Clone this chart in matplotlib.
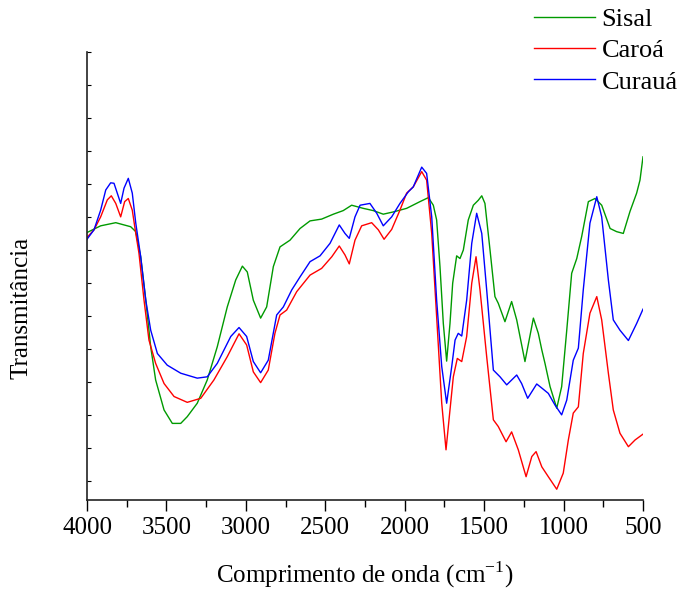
"""
FTIR spectra of sisal, caroá and curauá fibres (transmittance vs wavenumber).
"""
import matplotlib
matplotlib.use("Agg")
import matplotlib.pyplot as plt
import numpy as np

plt.rcParams["font.family"] = ["Liberation Serif", "DejaVu Serif"]

# values (wavenumber in cm-1, transmittance in arbitrary units)
sisal_wn = [4000, 3914, 3819, 3725, 3693, 3662, 3630, 3599, 3568, 3515, 3463, 3410,
            3369, 3306, 3243, 3180, 3117, 3064, 3022, 2991, 2953, 2907, 2869, 2827,
            2785, 2722, 2659, 2596, 2523, 2449, 2387, 2334, 2261, 2198, 2135, 2072,
            1988, 1904, 1851, 1820, 1799, 1778, 1757, 1736, 1715, 1698, 1673, 1652,
            1631, 1600, 1568, 1537, 1515, 1495, 1463, 1432, 1411, 1369, 1327, 1295,
            1243, 1190, 1159, 1137, 1117, 1085, 1043, 1012, 980, 949, 917, 886, 844,
            802, 760, 707, 666, 624, 582, 540, 519, 500]
sisal_t = [59.7, 61.2, 61.9, 61.0, 59.9, 54.3, 44.6, 34.2, 26.8, 20.1, 17.1, 17.1,
           18.6, 21.6, 26.8, 34.2, 43.1, 49.1, 52.2, 50.9, 44.6, 40.6, 43.1, 52.1,
           56.5, 58.0, 60.6, 62.3, 62.7, 63.8, 64.6, 65.8, 65.1, 64.6, 63.8, 64.3,
           65.1, 66.6, 67.5, 65.8, 62.5, 52.1, 39.4, 31.0, 39.4, 48.4, 54.5, 53.9,
           55.8, 62.5, 65.8, 66.9, 67.9, 66.2, 55.8, 45.4, 43.9, 39.8, 44.3, 40.2,
           30.9, 40.6, 37.2, 33.5, 30.5, 25.3, 20.5, 25.3, 37.9, 50.6, 53.9, 58.8, 66.6,
           67.3, 65.8, 60.6, 59.9, 59.5, 64.4, 68.5, 71.4, 76.6]

caroa_wn = [4000, 3956, 3914, 3872, 3847, 3819, 3788, 3763, 3740, 3715, 3693, 3673,
            3641, 3610, 3568, 3515, 3452, 3369, 3284, 3201, 3117, 3043, 2995, 2953,
            2907, 2859, 2817, 2785, 2743, 2680, 2596, 2523, 2459, 2412, 2376, 2349,
            2313, 2271, 2208, 2166, 2130, 2082, 2030, 1988, 1946, 1893, 1862, 1830,
            1799, 1767, 1740, 1715, 1694, 1669, 1641, 1610, 1578, 1551, 1526, 1484,
            1442, 1411, 1362, 1327, 1285, 1236, 1200, 1173, 1137, 1096, 1043, 1002,
            970, 939, 907, 876, 834, 791, 760, 718, 687, 645, 592, 550, 500]
caroa_t = [58.6, 60.3, 63.2, 67.0, 67.9, 66.2, 63.2, 66.6, 67.3, 64.7, 59.5, 55.1,
           44.6, 35.7, 30.5, 26.0, 23.1, 21.8, 22.7, 26.8, 32.0, 37.1, 34.6, 28.6,
           26.2, 29.0, 37.2, 41.3, 42.4, 46.5, 50.2, 51.7, 54.3, 56.7, 54.7, 52.7,
           58.0, 61.2, 61.9, 60.3, 58.2, 60.4, 64.7, 68.5, 69.9, 73.3, 71.4, 59.5,
           40.9, 21.6, 11.2, 20.1, 27.5, 31.6, 30.9, 36.5, 48.4, 54.3, 46.9, 32.0,
           17.9, 16.4, 13.0, 15.2, 11.2, 5.2, 9.7, 10.8, 7.4, 5.2, 2.4, 6.0,
           13.4, 19.4, 20.8, 32.7, 41.7, 45.4, 40.2, 28.3, 20.1, 14.9, 11.9, 13.4, 14.7]

curaua_wn = [4000, 3956, 3914, 3882, 3851, 3830, 3788, 3767, 3740, 3715, 3693, 3662,
             3630, 3599, 3557, 3495, 3410, 3306, 3243, 3180, 3095, 3043, 2995, 2953,
             2907, 2859, 2806, 2764, 2711, 2659, 2596, 2533, 2470, 2412, 2376, 2349,
             2313, 2281, 2219, 2176, 2135, 2082, 2030, 1977, 1946, 1893, 1862, 1830,
             1799, 1767, 1736, 1704, 1683, 1663, 1641, 1610, 1578, 1547, 1515, 1484,
             1442, 1400, 1358, 1295, 1264, 1226, 1169, 1127, 1096, 1054, 1012, 980,
             939, 907, 876, 834, 791, 760, 718, 687, 645, 592, 540, 500]
curaua_t = [58.2, 60.3, 64.7, 69.2, 70.8, 70.7, 66.2, 69.6, 71.8, 68.5, 61.8, 54.3,
            44.6, 37.9, 32.7, 30.1, 28.3, 27.2, 27.5, 30.5, 36.5, 38.5, 36.5, 30.9,
            28.4, 31.2, 41.3, 43.1, 46.9, 49.8, 53.2, 54.5, 57.3, 61.4, 59.5, 58.4,
            63.2, 65.8, 66.2, 64.0, 61.2, 63.2, 66.2, 68.8, 69.9, 74.3, 72.9, 63.2,
            44.6, 29.8, 21.6, 29.8, 35.7, 37.2, 36.6, 44.6, 57.3, 64.0, 59.5, 46.9,
            29.0, 27.5, 25.7, 27.9, 26.0, 22.7, 25.9, 24.7, 23.8, 21.2, 19.0, 22.3,
            31.2, 33.9, 46.9, 61.8, 67.7, 63.2, 49.1, 40.2, 37.9, 35.6, 39.4, 42.6]

series = [
    ("Sisal", sisal_wn, sisal_t, "#009a00"),
    ("Caroá", caroa_wn, caroa_t, "#ff0000"),
    ("Curauá", curaua_wn, curaua_t, "#0000ff"),
]

W, H = 679, 590
fig = plt.figure(figsize=(W / 100, H / 100), dpi=100)
ax = fig.add_axes([87 / W, 1 - 500 / H, (643 - 87) / W, (500 - 52) / H])

for name, wn, t, color in series:
    ax.plot(wn, t, color=color, lw=1.0, label=name, solid_joinstyle="round")

ax.set_xlim(4000, 500)
ax.set_ylim(0, 100)
ax.set_xticks(np.arange(4000, 499, -500))
ax.set_xticks(np.arange(3750, 500, -500), minor=True)
ax.tick_params(axis="x", which="major", direction="out", length=8, width=1.0,
               labelsize=18, pad=4)
ax.tick_params(axis="x", which="minor", direction="out", length=5, width=1.0)

# unlabelled y ticks, spaced from the top of the axis
ax.set_yticks([])
ax.set_yticks(np.arange(100, 0, -7.366), minor=True)
ax.tick_params(axis="y", which="minor", direction="in", length=3, width=0.8)

for side in ("top", "right"):
    ax.spines[side].set_visible(False)
for side in ("left", "bottom"):
    ax.spines[side].set_linewidth(1.2)
    ax.spines[side].set_color("#222222")

ax.set_xlabel("Comprimento de onda (cm$^{\\mathregular{-1}}$)", fontsize=18, labelpad=15)
fig.text(22 / W, 1 - 308 / H, "Transmitância", rotation=90, fontsize=18,
         ha="center", va="center")

fig.legend(loc="upper right", bbox_to_anchor=(1.002, 0.992), frameon=False,
           fontsize=19, handlelength=2.3, handletextpad=0.25, labelspacing=0.3,
           borderpad=0.1, borderaxespad=0)

fig.savefig("out.png", dpi=100)
